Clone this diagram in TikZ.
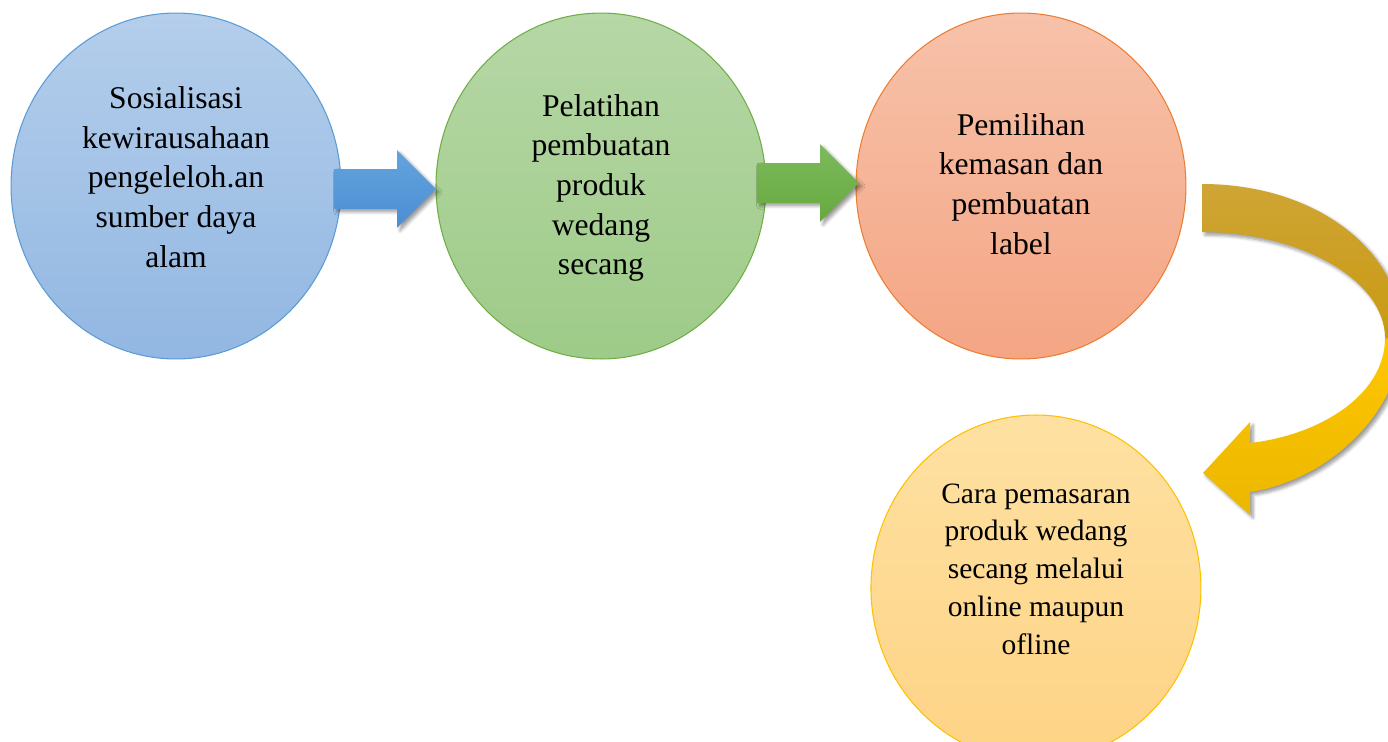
\documentclass[tikz,border=0pt]{standalone}
\usepackage{fontspec}
\setmainfont{Liberation Serif}
\usetikzlibrary{positioning, calc, shapes.geometric, shapes.arrows, shadows.blur}

\definecolor{blueTop}{HTML}{B4CEEB}
\definecolor{blueBot}{HTML}{92B7E2}
\definecolor{blueLine}{HTML}{5B9BD5}
\definecolor{greenTop}{HTML}{B6D7A6}
\definecolor{greenBot}{HTML}{9ECB88}
\definecolor{greenLine}{HTML}{70AD47}
\definecolor{orangeTop}{HTML}{F7C2AA}
\definecolor{orangeBot}{HTML}{F4A584}
\definecolor{orangeLine}{HTML}{ED7D31}
\definecolor{yellowTop}{HTML}{FEE1A2}
\definecolor{yellowBot}{HTML}{FED385}
\definecolor{yellowLine}{HTML}{FFC000}
\definecolor{arrBlueTop}{HTML}{64A3DD}
\definecolor{arrBlueBot}{HTML}{4A8ED3}
\definecolor{arrGreenTop}{HTML}{7DBA5C}
\definecolor{arrGreenBot}{HTML}{66A93F}
\definecolor{goldTop}{HTML}{CFA535}
\definecolor{goldMid}{HTML}{C99A12}
\definecolor{yelMid}{HTML}{FFC600}
\definecolor{yelBot}{HTML}{EBB700}

\pgfdeclareverticalshading{goldArrow}{100bp}{color(0bp)=(yelBot); color(25bp)=(yelBot); color(51.5bp)=(yelMid); color(52bp)=(goldMid); color(75bp)=(goldTop); color(100bp)=(goldTop)}

\tikzstyle{myCircle} = [ellipse, draw, line width=0.6pt, minimum width=6.6cm, minimum height=6.92cm, inner sep=0pt]
\tikzstyle{myText} = [align=center, font=\fontsize{18}{22.6}\selectfont]
\tikzstyle{myArrow} = [single arrow, minimum height=2.04cm, inner xsep=0pt, inner ysep=0.39cm, text height=0pt, text depth=0pt, single arrow head extend=0.38cm, blur shadow={shadow xshift=0.06cm, shadow yshift=-0.06cm, shadow blur steps=6, shadow opacity=40}]

\begin{document}
\begin{tikzpicture}[x=0.02cm, y=-0.02cm]
	\useasboundingbox (0,0) rectangle (1388,741);
	\clip (0,0) rectangle (1388,741);

	% the four steps
	\node [myCircle, draw=blueLine, top color=blueTop, bottom color=blueBot] (b1) at (176,186) {};
	\node [myCircle, draw=greenLine, top color=greenTop, bottom color=greenBot, right=1.88cm of b1] (b2) {};
	\node [myCircle, draw=orangeLine, top color=orangeTop, bottom color=orangeBot, right=1.78cm of b2] (b3) {};
	\node [myCircle, draw=yellowLine, top color=yellowTop, bottom color=yellowBot, below=1.1cm of b3, xshift=0.3cm] (b4) {};

	\node [myText] (t1) at ([yshift=0.18cm]b1.center) {Sosialisasi\\kewirausahaan\\pengeleloh.an\\sumber daya\\alam};
	\node [myText] (t2) at ([yshift=-0.04cm]b2.center) {Pelatihan\\pembuatan\\produk\\wedang\\secang};
	\node [myText] (t3) at ([yshift=0.04cm]b3.center) {Pemilihan\\kemasan dan\\pembuatan\\label};
	\node [myText, font=\fontsize{16.8}{21.5}\selectfont] (t4) at ([yshift=0.38cm]b4.center) {Cara pemasaran\\produk wedang\\secang melalui\\online maupun\\ofline};

	% arrows
	\node [myArrow, top color=arrBlueTop, bottom color=arrBlueBot, xshift=-0.27cm, yshift=-0.06cm] (a1) at ($(b1.east)!0.5!(b2.west)$) {};
	\node [myArrow, top color=arrGreenTop, bottom color=arrGreenBot, xshift=-0.26cm, yshift=0.06cm] (a2) at ($(b2.east)!0.5!(b3.west)$) {};

	\shade [shading=goldArrow, blur shadow={shadow xshift=0.06cm, shadow yshift=-0.06cm, shadow blur steps=6, shadow opacity=40}]
		(1202,184) .. controls (1315,184) and (1402,250) .. (1402,335)
		.. controls (1402,410) and (1330,480) .. (1250,492) -- (1250,515) -- (1203,473) -- (1250,422) -- (1250,443)
		.. controls (1320,435) and (1385,395) .. (1385,338)
		.. controls (1385,280) and (1300,232) .. (1202,232) -- cycle;
\end{tikzpicture}
\end{document}
